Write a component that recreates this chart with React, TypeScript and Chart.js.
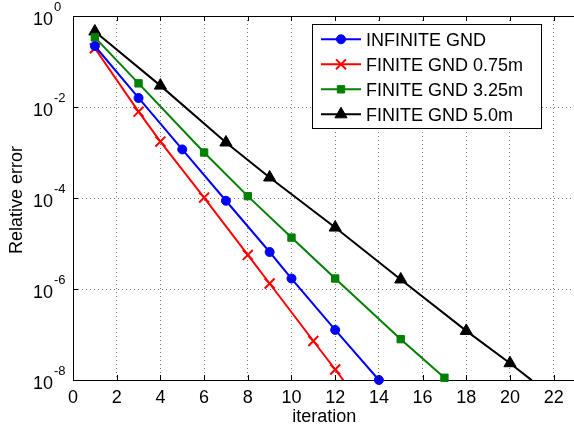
import React, { useEffect, useRef } from "react";
import { Chart, registerables } from "chart.js";
import { drawPoint } from "chart.js/helpers";

Chart.register(...registerables);

// ---- data ----
const xTickValues = [0, 2, 4, 6, 8, 10, 12, 14, 16, 18, 20, 22];
const yTickExponents = [0, -2, -4, -6, -8];
const xAxisTitle = "iteration";
const yAxisTitle = "Relative error";

const seriesLabels = ["INFINITE GND", "FINITE GND 0.75m", "FINITE GND 3.25m", "FINITE GND 5.0m"];

const infiniteIter = [1, 3, 5, 7, 9, 10, 12, 14];
const infiniteErr = [2.19e-1, 1.58e-2, 1.17e-3, 8.7e-5, 6.5e-6, 1.7e-6, 1.26e-7, 1.0e-8];
const infiniteMarks = [1, 1, 1, 1, 1, 1, 1, 1];

const finite075Iter = [1, 3, 4, 6, 8, 9, 11, 12, 13];
const finite075Err = [1.95e-1, 7.9e-3, 1.74e-3, 1.02e-4, 5.6e-6, 1.32e-6, 7.2e-8, 1.7e-8, 4.0e-9];
const finite075Marks = [1, 1, 1, 1, 1, 1, 1, 1, 0];

const finite325Iter = [1, 3, 6, 8, 10, 12, 15, 17];
const finite325Err = [3.39e-1, 3.31e-2, 1.0e-3, 1.1e-4, 1.35e-5, 1.7e-6, 7.9e-8, 1.12e-8];
const finite325Marks = [1, 1, 1, 1, 1, 1, 1, 1];

const finite50Iter = [1, 4, 7, 9, 12, 15, 18, 20, 21];
const finite50Err = [4.57e-1, 2.95e-2, 1.66e-3, 2.82e-4, 2.24e-5, 1.62e-6, 1.2e-7, 2.34e-8, 9.8e-9];
const finite50Marks = [1, 1, 1, 1, 1, 1, 1, 1, 0];

const xMin = 0;
const xMax = 22.93;
const xTitleCenterValue = 11.5;

const FONT = '"Liberation Sans", Arial, Helvetica, sans-serif';

type Style = { color: string; pointStyle: string; radius: number; borderWidth: number; clip: any };
const styles: Style[] = [
  { color: "#0000ff", pointStyle: "circle", radius: 4.5, borderWidth: 1, clip: false },
  { color: "#ff0000", pointStyle: "crossRot", radius: 7, borderWidth: 2, clip: { left: 10, top: 10, right: 10, bottom: 0 } },
  { color: "#008000", pointStyle: "rect", radius: 5.2, borderWidth: 1, clip: false },
  { color: "#000000", pointStyle: "triangle", radius: 7, borderWidth: 1, clip: { left: 10, top: 10, right: 10, bottom: 0 } },
];

function toPoints(xs: number[], ys: number[]) {
  return xs.map((x, i) => ({ x, y: ys[i] }));
}

const overlayPlugin = {
  id: "overlay",
  afterDraw(chart: any) {
    const ctx: CanvasRenderingContext2D = chart.ctx;
    const xs = chart.scales.x;
    const ys = chart.scales.y;
    const { left, right, top, bottom } = chart.chartArea;
    ctx.save();
    // top border
    ctx.strokeStyle = "#000";
    ctx.lineWidth = 1;
    ctx.beginPath();
    ctx.moveTo(left, Math.round(top) + 0.5);
    ctx.lineTo(right, Math.round(top) + 0.5);
    ctx.stroke();
    // inward ticks
    ctx.beginPath();
    for (const v of xTickValues) {
      const px = Math.round(xs.getPixelForValue(v)) + 0.5;
      ctx.moveTo(px, bottom);
      ctx.lineTo(px, bottom - 5);
      ctx.moveTo(px, top);
      ctx.lineTo(px, top + 5);
    }
    for (const e of yTickExponents) {
      const py = Math.round(ys.getPixelForValue(Math.pow(10, e))) + 0.5;
      ctx.moveTo(left, py);
      ctx.lineTo(left + 5, py);
    }
    ctx.stroke();

    // x tick labels
    ctx.fillStyle = "#000";
    ctx.font = `18px ${FONT}`;
    ctx.textAlign = "center";
    ctx.textBaseline = "alphabetic";
    for (const v of xTickValues) {
      ctx.fillText(String(v), xs.getPixelForValue(v), bottom + 22.5);
    }
    // x title
    ctx.fillText(xAxisTitle, xs.getPixelForValue(xTitleCenterValue), bottom + 42);

    // y tick labels 10^e
    for (const e of yTickExponents) {
      const py = ys.getPixelForValue(Math.pow(10, e));
      ctx.font = `18px ${FONT}`;
      ctx.textAlign = "right";
      ctx.fillText("10", left - 20, py + 8.5);
      ctx.font = `13px ${FONT}`;
      ctx.textAlign = "left";
      ctx.fillText(String(e), left - 19, py - 5);
    }
    // y title
    ctx.save();
    ctx.translate(17, (top + bottom) / 2 + 2);
    ctx.rotate(-Math.PI / 2);
    ctx.font = `18px ${FONT}`;
    ctx.textAlign = "center";
    ctx.textBaseline = "middle";
    ctx.fillText(yAxisTitle, 0, 0);
    ctx.restore();

    // legend
    const bx = 312.5, by = 24.5, bw = 229, bh = 104;
    ctx.fillStyle = "#fff";
    ctx.fillRect(bx, by, bw, bh);
    ctx.strokeStyle = "#000";
    ctx.lineWidth = 1;
    ctx.strokeRect(bx, by, bw, bh);
    ctx.font = `18px ${FONT}`;
    ctx.textAlign = "left";
    ctx.textBaseline = "alphabetic";
    seriesLabels.forEach((label, i) => {
      const st = styles[i];
      const ry = 39.3 + i * 25;
      ctx.strokeStyle = st.color;
      ctx.fillStyle = st.color;
      ctx.lineWidth = 2;
      ctx.beginPath();
      ctx.moveTo(321, ry);
      ctx.lineTo(361, ry);
      ctx.stroke();
      ctx.lineWidth = st.borderWidth;
      drawPoint(ctx, { pointStyle: st.pointStyle, radius: st.radius, rotation: 0, borderWidth: st.borderWidth } as any, 341, ry);
      ctx.fillStyle = "#000";
      ctx.fillText(label, 366, ry + 6.5);
    });
    ctx.restore();
  },
};

export default function App() {
  const ref = useRef<HTMLCanvasElement>(null);
  useEffect(() => {
    if (!ref.current) return;
    const sets = [
      { xs: infiniteIter, ys: infiniteErr, marks: infiniteMarks },
      { xs: finite075Iter, ys: finite075Err, marks: finite075Marks },
      { xs: finite325Iter, ys: finite325Err, marks: finite325Marks },
      { xs: finite50Iter, ys: finite50Err, marks: finite50Marks },
    ];
    const chart = new Chart(ref.current, {
      type: "line",
      data: {
        datasets: sets.map((s, i) => ({
          label: seriesLabels[i],
          data: toPoints(s.xs, s.ys),
          borderColor: styles[i].color,
          backgroundColor: styles[i].color,
          pointBackgroundColor: styles[i].color,
          pointBorderColor: styles[i].color,
          borderWidth: 2,
          pointStyle: styles[i].pointStyle as any,
          pointRadius: s.marks.map((m) => (m ? styles[i].radius : 0)),
          pointBorderWidth: styles[i].borderWidth,
          tension: 0,
          fill: false,
          clip: styles[i].clip,
        })),
      },
      options: {
        responsive: false,
        animation: false,
        devicePixelRatio: 1,
        events: [],
        layout: { autoPadding: false, padding: { top: 16, right: 0, left: 0, bottom: 0 } },
        plugins: { legend: { display: false }, tooltip: { enabled: false } },
        scales: {
          x: {
            type: "linear",
            min: xMin,
            max: xMax,
            bounds: "data",
            offset: false,
            afterBuildTicks: (scale: any) => {
              scale.ticks = xTickValues.map((v) => ({ value: v }));
            },
            afterFit: (scale: any) => {
              scale.height = 50;
              scale.paddingLeft = 0;
              scale.paddingRight = 0;
            },
            ticks: { display: false },
            grid: { color: "#7a7a7a", lineWidth: 1, drawTicks: false },
            border: { display: true, color: "#000", width: 1, dash: [1, 3] },
          },
          y: {
            type: "logarithmic",
            min: 1e-8,
            max: 1,
            afterBuildTicks: (scale: any) => {
              scale.ticks = yTickExponents.map((e) => ({ value: Math.pow(10, e) }));
            },
            afterFit: (scale: any) => {
              scale.width = 73;
              scale.paddingTop = 0;
              scale.paddingBottom = 0;
            },
            ticks: { display: false },
            grid: { color: "#7a7a7a", lineWidth: 1, drawTicks: false },
            border: { display: true, color: "#000", width: 1, dash: [1, 3] },
          },
        },
      },
      plugins: [overlayPlugin],
    } as any);
    return () => chart.destroy();
  }, []);
  return (
    <div style={{ position: "fixed", left: 0, top: 0, width: 574, height: 430, background: "#fff" }}>
      <canvas ref={ref} width={574} height={430} style={{ width: 574, height: 430, display: "block" }} />
    </div>
  );
}
